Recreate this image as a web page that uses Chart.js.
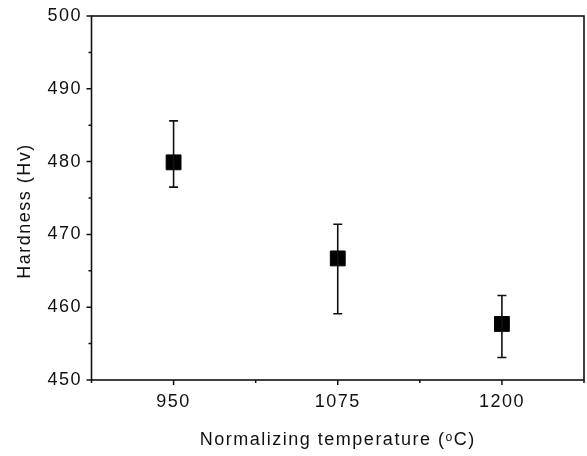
<!DOCTYPE html>
<html>
<head>
<meta charset="utf-8">
<script src="https://cdn.jsdelivr.net/npm/chart.js@4/dist/chart.umd.min.js"></script>
<style>
html,body{margin:0;padding:0;background:#fff;}
#wrap{width:587px;height:456px;}
</style>
</head>
<body>
<div id="wrap"><canvas id="c" width="587" height="456"></canvas></div>
<script>
const temperatures = [950, 1075, 1200];
const hardness = [479.9, 466.7, 457.7];
const errHigh = [485.6, 471.4, 461.6];
const errLow = [476.5, 459.1, 453.1];
const yTicks = [450, 460, 470, 480, 490, 500];
const yMinorTicks = [455, 465, 475, 485, 495];
const xMinorTicks = [887.5, 1012.5, 1137.5, 1262.5];

const FONT = '"Liberation Sans", Arial, sans-serif';
const INK = '#111';

const spacingPlugin = {
  id: 'spacing',
  beforeDraw(chart) { chart.ctx.letterSpacing = '1.5px'; }
};

const framePlugin = {
  id: 'frame',
  afterDatasetsDraw(chart) {
    const ctx = chart.ctx;
    const a = chart.chartArea;
    const xs = chart.scales.x, ys = chart.scales.y;
    ctx.save();
    ctx.strokeStyle = INK;
    ctx.lineWidth = 1.6;
    for (let i = 0; i < temperatures.length; i++) {
      const px = xs.getPixelForValue(temperatures[i]);
      const pt = ys.getPixelForValue(errHigh[i]);
      const pb = ys.getPixelForValue(errLow[i]);
      ctx.beginPath();
      ctx.moveTo(px, pt); ctx.lineTo(px, pb);
      ctx.moveTo(px - 4.5, pt); ctx.lineTo(px + 4.5, pt);
      ctx.moveTo(px - 4.5, pb); ctx.lineTo(px + 4.5, pb);
      ctx.stroke();
    }
    ctx.lineWidth = 1.6;
    ctx.strokeRect(a.left, a.top, a.right - a.left, a.bottom - a.top);
    ctx.lineWidth = 1.5;
    ctx.beginPath();
    yTicks.forEach(v => { const p = ys.getPixelForValue(v); ctx.moveTo(a.left, p); ctx.lineTo(a.left - 5, p); });
    yMinorTicks.forEach(v => { const p = ys.getPixelForValue(v); ctx.moveTo(a.left, p); ctx.lineTo(a.left - 3, p); });
    temperatures.forEach(v => { const p = xs.getPixelForValue(v); ctx.moveTo(p, a.bottom); ctx.lineTo(p, a.bottom + 5); });
    xMinorTicks.forEach(v => { const p = xs.getPixelForValue(v); ctx.moveTo(p, a.bottom); ctx.lineTo(p, a.bottom + 3); });
    ctx.stroke();
    ctx.restore();
  }
};

new Chart(document.getElementById('c'), {
  type: 'scatter',
  data: {
    datasets: [{
      data: temperatures.map((t, i) => ({x: t, y: hardness[i]})),
      pointStyle: 'rect',
      pointRadius: 10.5,
      pointHoverRadius: 10.5,
      backgroundColor: '#000',
      borderColor: '#000',
      borderWidth: 1
    }]
  },
  options: {
    responsive: false,
    animation: false,
    devicePixelRatio: 1,
    layout: { autoPadding: false, padding: { top: 16, right: 3, left: 0, bottom: 0 } },
    plugins: { legend: { display: false }, tooltip: { enabled: false } },
    scales: {
      x: {
        type: 'linear',
        min: 887.5, max: 1262.5,
        afterBuildTicks(s) { s.ticks = temperatures.map(v => ({value: v})); },
        afterFit(s) { s.height = 76; s.paddingLeft = 0; s.paddingRight = 0; },
        grid: { display: false, drawTicks: false },
        border: { display: false },
        ticks: { padding: 11, autoSkip: false, maxRotation: 0, color: INK, font: { family: FONT, size: 18 }, callback: v => String(v) },
        title: { display: true, text: 'Normalizing temperature (ᵒC)', color: INK, font: { family: FONT, size: 18 }, padding: { top: 0, bottom: 5 } }
      },
      y: {
        min: 450, max: 500,
        afterBuildTicks(s) { s.ticks = yTicks.map(v => ({value: v})); },
        afterFit(s) { s.width = 91.5; s.paddingTop = 0; s.paddingBottom = 0; },
        grid: { display: false, drawTicks: false },
        border: { display: false },
        ticks: { padding: 9.5, autoSkip: false, color: INK, font: { family: FONT, size: 18 } },
        title: { display: true, text: 'Hardness (Hv)    ', color: INK, font: { family: FONT, size: 18 }, padding: { top: 14, bottom: 0 } }
      }
    }
  },
  plugins: [spacingPlugin, framePlugin]
});
</script>
</body>
</html>
